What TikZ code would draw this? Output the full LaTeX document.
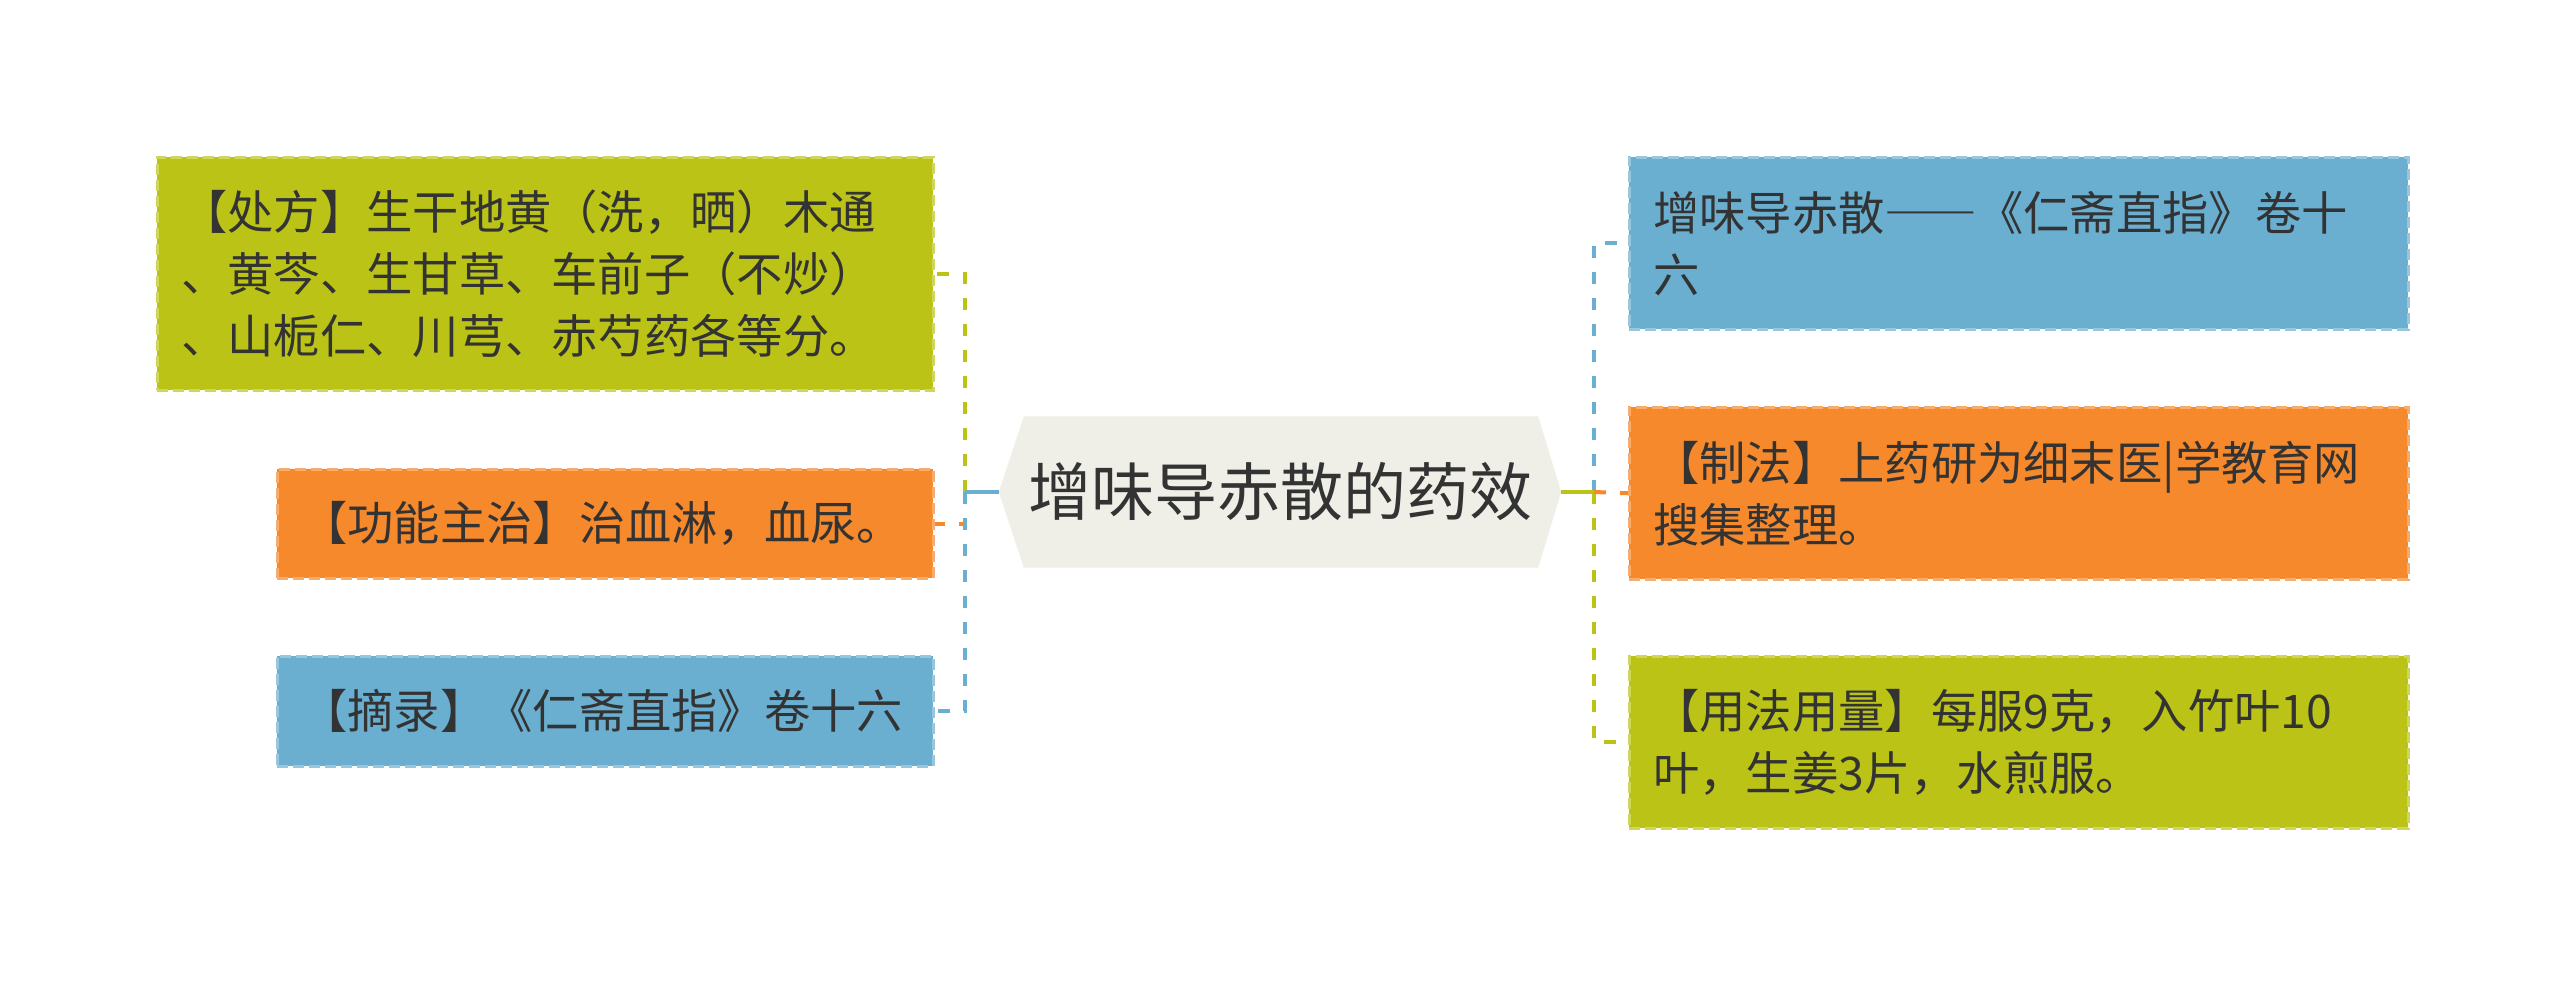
\documentclass[tikz,border=0pt]{standalone}
\usepackage{fontspec}
\setmainfont{Noto Sans CJK SC}
\usetikzlibrary{backgrounds}
\definecolor{cgreen}{HTML}{BBC416}
\definecolor{corange}{HTML}{F5892B}
\definecolor{cblue}{HTML}{6AAED0}
\definecolor{ccenter}{HTML}{EFEFE7}
\definecolor{ctext}{HTML}{333333}
\newcommand{\fwdash}{{\addfontfeatures{RawFeature=+fwid}——}}
\tikzset{
  box/.style={rectangle, anchor=north west, inner xsep=24pt, inner ysep=0pt,
    align=left, text=ctext, font=\fontsize{46.3pt}{62pt}\selectfont,
    line width=2.5pt, dash pattern=on 11pt off 5pt},
  gbox/.style={box, fill=cgreen, draw=cgreen!70!white},
  obox/.style={box, fill=corange, draw=corange!70!white},
  bbox/.style={box, fill=cblue, draw=cblue!70!white},
  wideL/.style={minimum width=776pt, text width=728pt},
  narrowL/.style={minimum width=656pt, text width=608pt},
  wideR/.style={minimum width=779pt, text width=731pt},
  conn/.style={line width=4pt, dash pattern=on 12pt off 14pt},
  solidconn/.style={line width=4pt},
}
\begin{document}
\begin{tikzpicture}[x=1pt,y=-1pt]
\useasboundingbox (0,0) rectangle (2560,983);

% centre
\node[minimum width=562pt, minimum height=151pt, inner sep=0pt, text=ctext,
  font=\fontsize{63pt}{75pt}\selectfont] (c) at (1280,492) {增味导赤散的药效};
\begin{scope}[on background layer]
\fill[ccenter] (c.west) -- ([xshift=25pt]c.north west) -- ([xshift=-23pt]c.north east)
  -- (c.east) -- ([xshift=-23pt]c.south east) -- ([xshift=25pt]c.south west) -- cycle;
\end{scope}

% left boxes
\node[gbox, wideL, minimum height=233pt] (lg) at (156,156)
  {【处方】生干地黄（洗，晒）木通\\、黄芩、生甘草、车前子（不炒）\\、山栀仁、川芎、赤芍药各等分。};
\node[obox, narrowL, minimum height=109pt] (lo) at (276,468)
  {【功能主治】治血淋，血尿。};
\node[bbox, narrowL, minimum height=110pt] (lb) at (276,655)
  {【摘录】《仁斋直指》卷十六};

% right boxes
\node[bbox, wideR, minimum height=172pt] (rb) at (1628,156)
  {增味导赤散\fwdash《仁斋直指》卷十\\六};
\node[obox, wideR, minimum height=172pt] (ro) at (1628,406)
  {【制法】上药研为细末医|学教育网\\搜集整理。};
\node[gbox, wideR, minimum height=172pt] (rg) at (1628,655)
  {【用法用量】每服9克，入竹叶10\\叶，生姜3片，水煎服。};

% junctions
\coordinate (jl) at (965,492);
\coordinate (jr) at (1594,492);

% left connectors
\draw[conn, cgreen] (jl) |- (lg.east);
\draw[conn, corange] (jl) |- (lo.east);
\draw[conn, cblue] (jl) |- (lb.east);
\draw[solidconn, cblue] (c.west) -- (jl);

% right connectors
\draw[conn, cblue] (jr) |- (rb.west);
\draw[conn, cgreen] (jr) |- (rg.west);
\draw[conn, corange] (jr) -- (ro.west);
\draw[solidconn, cgreen] (c.east) -- (jr);
\end{tikzpicture}
\end{document}
